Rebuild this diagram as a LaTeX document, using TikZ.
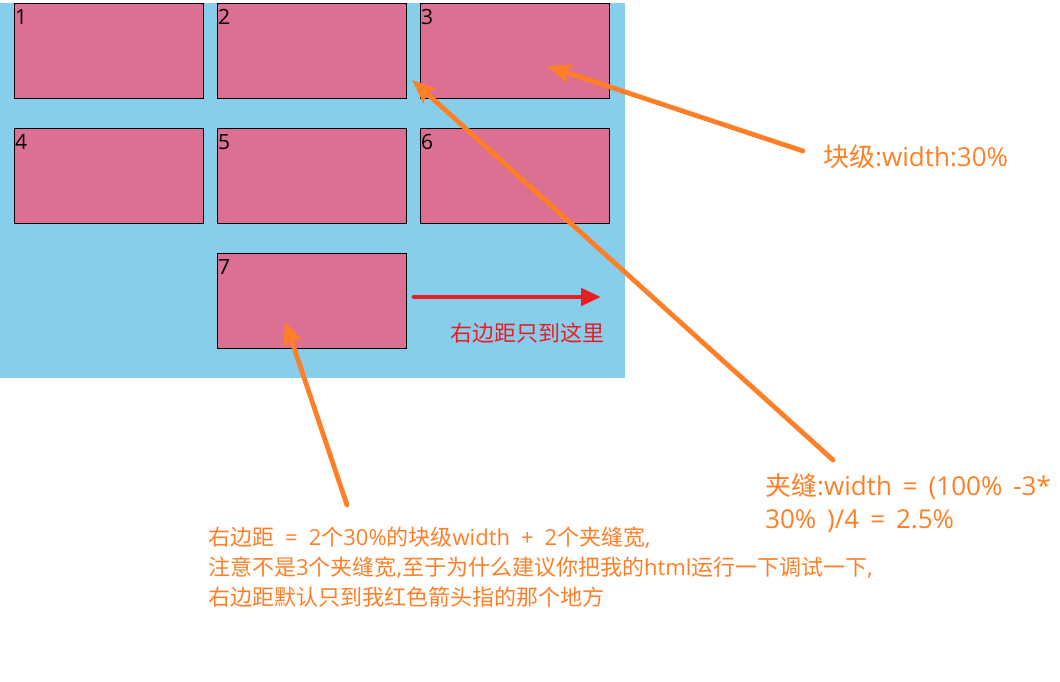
\documentclass[tikz,border=0pt]{standalone}
\usepackage{fontspec}
\setmainfont{Open Sans}
\newfontfamily\zhfont{Noto Sans CJK SC}
\newcommand{\zhtext}[1]{{\zhfont #1}}
\newcommand{\widegap}[1]{\spaceskip=#1em\relax}
\usepackage{xcolor}
\usetikzlibrary{arrows.meta,positioning}
\definecolor{skyback}{HTML}{87CEEB}
\definecolor{blockpink}{HTML}{DB7093}
\definecolor{noteorange}{HTML}{FF7F27}
\definecolor{markred}{HTML}{ED1C24}

\begin{document}
\begin{tikzpicture}[
    x=1pt, y=-1pt,
    node distance=30pt and 14pt,
    block/.style={draw=black, line width=1pt, fill=blockpink, minimum width=189pt, minimum height=95pt, inner sep=0pt, outer sep=0pt},
    num/.style={label={[anchor=north west, inner sep=0pt, xshift=1pt, yshift=-6pt, font=\fontsize{21}{21}\selectfont]north west:#1}},
    note/.style={text=noteorange, font=\fontsize{26}{33}\selectfont\widegap{0.42}, inner sep=0pt, align=left, anchor=west},
    smallnote/.style={note, font=\fontsize{22}{30}\selectfont\widegap{0.5}},
    pointer/.style={-{Stealth[length=24pt, width=19pt, inset=5pt]}, line width=4.8pt, draw=noteorange, line cap=round},
    limit/.style={-{Triangle[length=20pt, width=17pt]}, line width=4.8pt, draw=markred, line cap=round}
]
\useasboundingbox (0,0) rectangle (1060,681);
\fill[skyback] (0,3) rectangle (625,378);

% the seven blocks
\node[block, num=1, anchor=north west] (b1) at (14,3) {};
\node[block, num=2, right=of b1] (b2) {};
\node[block, num=3, right=of b2] (b3) {};
\node[block, num=4, below=of b1] (b4) {};
\node[block, num=5, right=of b4] (b5) {};
\node[block, num=6, right=of b5] (b6) {};
\node[block, num=7, below=of b5] (b7) {};

% red mark for the right margin
\coordinate (rstart) at (414,297);
\coordinate (rend) at (601,297);
\draw[limit] (rstart) -- (rend);
\node[text=markred, font=\fontsize{22}{22}\selectfont, inner sep=0pt] (stop) at (527,333) {\zhtext{右边距只到这里}};

% notes
\node[note] (blockw) at (823,157) {\zhtext{块级}:width:30\%};
\node[note] (gapw) at (765,503) {\zhtext{夹缝}:width = (100\% -3*\\30\% )/4 = 2.5\%};
\node[smallnote] (margin) at (208,567) {\zhtext{右边距} = 2\zhtext{个}30\%\zhtext{的块级}width + 2\zhtext{个夹缝宽},\\
  \zhtext{注意不是}3\zhtext{个夹缝宽},\zhtext{至于为什么建议你把我的}html\zhtext{运行一下调试一下},\\
  \zhtext{右边距默认只到我红色箭头指的那个地方}};

\coordinate (t1) at (803,151);
\coordinate (h1) at (547,66);
\coordinate (t2) at (833,460);
\coordinate (h2) at (412,80);
\coordinate (t3) at (347,505);
\coordinate (h3) at (285,321);
\draw[pointer] (t1) -- (h1);
\draw[pointer] (t2) -- (h2);
\draw[pointer] (t3) -- (h3);
\end{tikzpicture}
\end{document}
